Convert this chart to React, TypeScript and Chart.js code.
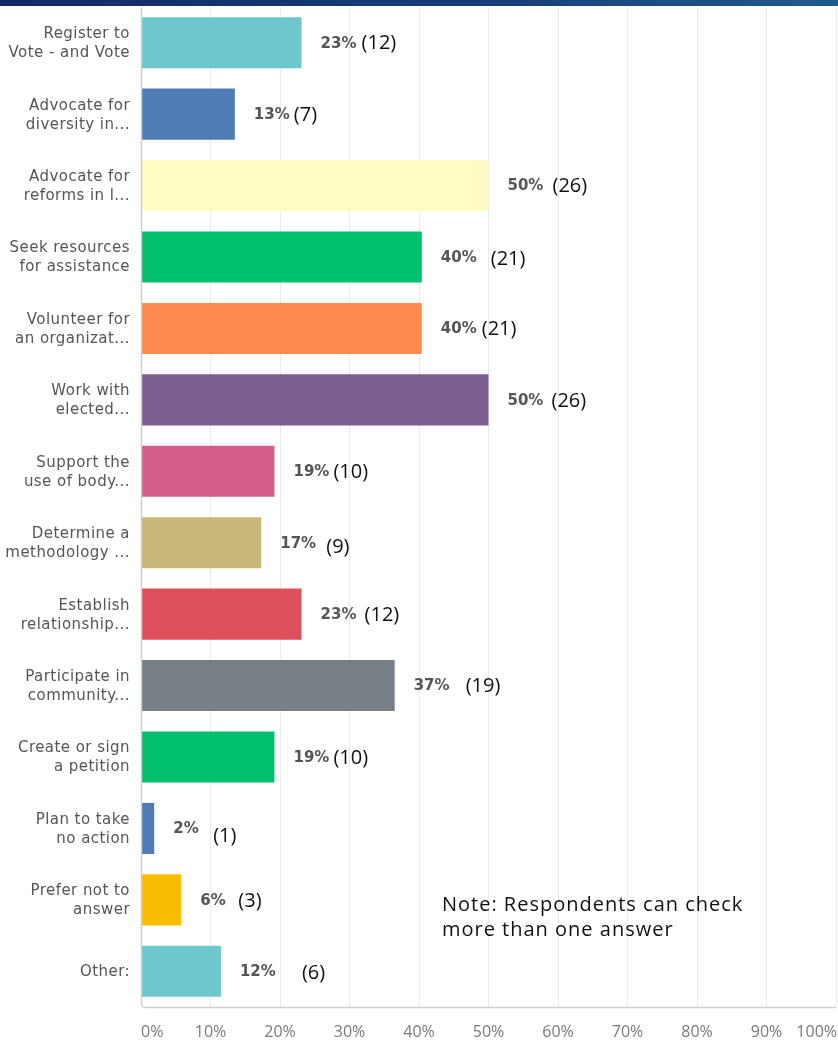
import React, { useEffect, useRef } from "react";
import { Chart, registerables } from "chart.js";

Chart.register(...registerables);

// ---- data ----
const categories: string[][] = [
  ["Register to", "Vote - and Vote"],
  ["Advocate for", "diversity in..."],
  ["Advocate for", "reforms in l..."],
  ["Seek resources", "for assistance"],
  ["Volunteer for", "an organizat..."],
  ["Work with", "elected..."],
  ["Support the", "use of body..."],
  ["Determine a", "methodology ..."],
  ["Establish", "relationship..."],
  ["Participate in", "community..."],
  ["Create or sign", "a petition"],
  ["Plan to take", "no action"],
  ["Prefer not to", "answer"],
  ["Other:"],
];
const percentValues = [23.1, 13.5, 50, 40.4, 40.4, 50, 19.2, 17.3, 23.1, 36.5, 19.2, 1.9, 5.8, 11.5];
const percentLabels = ["23%", "13%", "50%", "40%", "40%", "50%", "19%", "17%", "23%", "37%", "19%", "2%", "6%", "12%"];
const responseCounts = [12, 7, 26, 21, 21, 26, 10, 9, 12, 19, 10, 1, 3, 6];
const xTickValues = [0, 10, 20, 30, 40, 50, 60, 70, 80, 90, 100];
const noteLines = ["Note: Respondents can check", "more than one answer"];

// ---- styles ----
const barColors = [
  "#6cc8cc", "#507cb6", "#fffbc2", "#00bf6f", "#ff8b4f", "#7d5e90", "#d45d8b",
  "#c7b879", "#dd4f5c", "#768086", "#00bf6f", "#507cb6", "#f9be00", "#6cc8cc",
];
const countOffsetX = [60, 59, 64, 69, 60, 63, 59, 65, 63, 71, 59, 59, 57, 81];
const countOffsetY = [1, 1, 1, 2, 1, 1, 1, 5, 1, 1, 1, 8, 1, 2];

const W = 838;
const H = 1044;

const labelsPlugin = {
  id: "customLabels",
  afterDraw(chart: any) {
    const ctx = chart.ctx as CanvasRenderingContext2D;
    const xs = chart.scales.x;
    const ys = chart.scales.y;
    const area = chart.chartArea;
    ctx.save();

    // axis lines (left + bottom, rounded corner)
    const r = 4;
    ctx.strokeStyle = "#cfcfcf";
    ctx.lineWidth = 1.5;
    ctx.beginPath();
    ctx.moveTo(area.left + 0.5, area.top);
    ctx.lineTo(area.left + 0.5, area.bottom - r);
    ctx.arcTo(area.left + 0.5, area.bottom + 0.5, area.left + r, area.bottom + 0.5, r);
    ctx.lineTo(area.right, area.bottom + 0.5);
    ctx.stroke();

    // top band
    const g = ctx.createLinearGradient(0, 0, W, 0);
    g.addColorStop(0, "#12296a");
    g.addColorStop(0.6, "#173f7c");
    g.addColorStop(1, "#1f5b8f");
    ctx.fillStyle = g;
    ctx.fillRect(0, 0, W, 6);

    // category labels
    ctx.fillStyle = "#555555";
    ctx.font = "15px 'DejaVu Sans'";
    (ctx as any).letterSpacing = "0.45px";
    ctx.textAlign = "right";
    ctx.textBaseline = "middle";
    const lineH = 19;
    chart.data.labels.forEach((lab: string[], i: number) => {
      const y = ys.getPixelForValue(i);
      const n = lab.length;
      lab.forEach((line, j) => {
        ctx.fillText(line, area.left - 11, y + (j - (n - 1) / 2) * lineH + 1);
      });
    });
    (ctx as any).letterSpacing = "0px";

    // percent + count labels
    const data = chart.data.datasets[0].data as number[];
    data.forEach((v, i) => {
      const y = ys.getPixelForValue(i);
      const xEnd = xs.getPixelForValue(v);
      ctx.textAlign = "left";
      ctx.textBaseline = "middle";
      ctx.fillStyle = "#555555";
      ctx.font = "bold 15px 'DejaVu Sans'";
      ctx.fillText(percentLabels[i], xEnd + 19, y + 1);
      ctx.fillStyle = "#111111";
      ctx.font = "20px 'Open Sans'";
      ctx.fillText("(" + responseCounts[i] + ")", xEnd + countOffsetX[i], y + countOffsetY[i]);
    });

    // x tick labels
    ctx.fillStyle = "#7a7a7a";
    ctx.font = "16px 'Open Sans'";
    ctx.textAlign = "center";
    ctx.textBaseline = "middle";
    xTickValues.forEach((t) => {
      const txt = t + "%";
      const w = ctx.measureText(txt).width;
      let px = xs.getPixelForValue(t);
      px = Math.max(px, area.left + w / 2);
      px = Math.min(px, W - 1 - w / 2);
      ctx.fillText(txt, px, 1032);
    });

    // note
    ctx.fillStyle = "#111111";
    ctx.font = "20px 'Open Sans'";
    (ctx as any).letterSpacing = "1px";
    ctx.textAlign = "left";
    const nx = xs.getPixelForValue(43.3);
    noteLines.forEach((line, j) => {
      ctx.fillText(line, nx, 905 + j * 25);
    });
    (ctx as any).letterSpacing = "0px";

    ctx.restore();
  },
};

export default function App() {
  const ref = useRef<HTMLCanvasElement | null>(null);
  useEffect(() => {
    if (!ref.current) return;
    const chart = new Chart(ref.current, {
      type: "bar",
      data: {
        labels: categories as any,
        datasets: [
          {
            data: percentValues,
            backgroundColor: barColors,
            borderWidth: 0,
            barPercentage: 0.715,
            categoryPercentage: 1,
          },
        ],
      },
      options: {
        indexAxis: "y",
        responsive: false,
        animation: false,
        layout: { padding: { top: 7, right: 2, left: 0, bottom: 0 } },
        plugins: { legend: { display: false }, tooltip: { enabled: false } },
        scales: {
          x: {
            min: 0,
            max: 100,
            ticks: { stepSize: 10, display: false },
            grid: { color: "#ebebeb", drawTicks: false, lineWidth: 1 },
            border: { display: false },
            afterFit: (s: any) => {
              s.height = 37;
            },
          },
          y: {
            ticks: { display: false },
            grid: { display: false, drawTicks: false },
            border: { display: false },
            afterFit: (s: any) => {
              s.width = 141;
            },
          },
        },
      },
      plugins: [labelsPlugin],
    });
    return () => chart.destroy();
  }, []);
  return (
    <div style={{ position: "absolute", left: 0, top: 0, width: W, height: H, background: "#ffffff" }}>
      <canvas ref={ref} width={W} height={H} style={{ display: "block", width: W, height: H }} />
    </div>
  );
}
